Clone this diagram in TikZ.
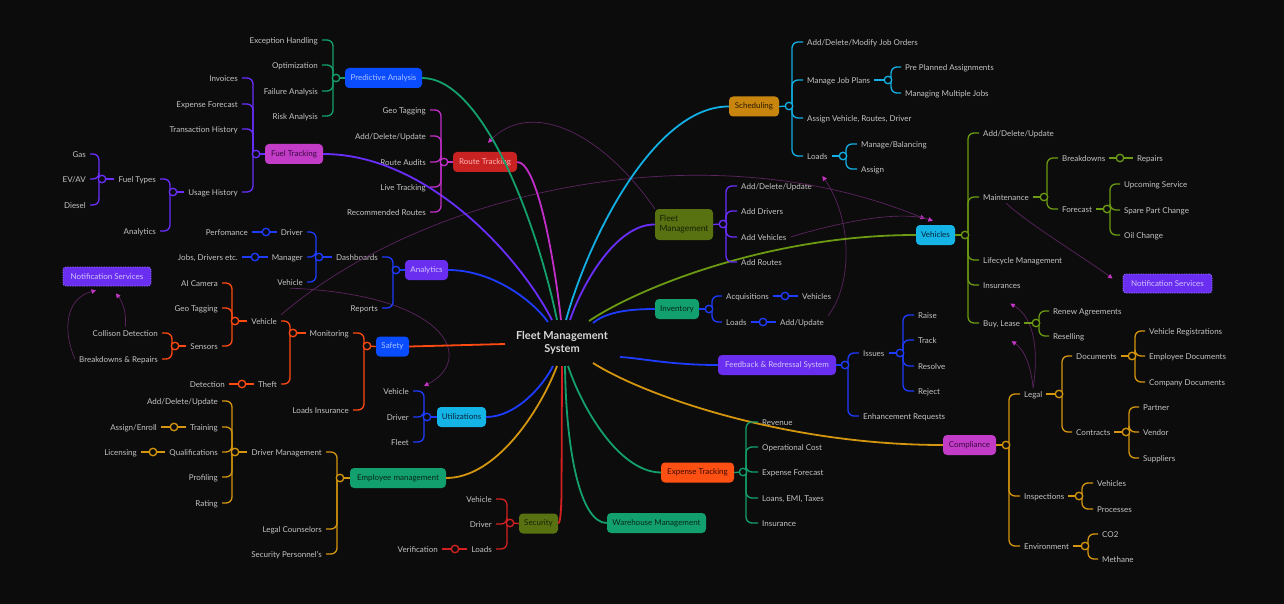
\documentclass[tikz,border=0pt]{standalone}
\usepackage{fontspec}
\setmainfont{Lato}
\usetikzlibrary{arrows.meta,calc}
\definecolor{bg}{HTML}{0C0C0C}
\definecolor{txt}{HTML}{C4C4C4}
\definecolor{titlec}{HTML}{D8D8D8}
\definecolor{relc}{HTML}{5C2460}
\definecolor{arrc}{HTML}{C535C5}
\definecolor{cGreen}{HTML}{14A06C}
\definecolor{cBlue}{HTML}{1E3CFF}
\definecolor{cViolet}{HTML}{6A2EFF}
\definecolor{cMag}{HTML}{C22EC8}
\definecolor{cRed}{HTML}{D42020}
\definecolor{cOrange}{HTML}{FF4A12}
\definecolor{cAmber}{HTML}{D4960E}
\definecolor{cCyan}{HTML}{12B0E4}
\definecolor{cOlive}{HTML}{6C9A12}
\definecolor{bBlue}{HTML}{0A4CFF}\definecolor{tBlue}{HTML}{A9C2FF}
\definecolor{bViolet}{HTML}{6A2EF0}\definecolor{tViolet}{HTML}{D0C4FF}
\definecolor{bMag}{HTML}{C23CC8}\definecolor{tMag}{HTML}{3C0842}
\definecolor{bRed}{HTML}{C82222}\definecolor{tRed}{HTML}{FFB4B4}
\definecolor{bGreen}{HTML}{12A06E}\definecolor{tGreen}{HTML}{06281A}
\definecolor{bOrange}{HTML}{FF5014}\definecolor{tOrange}{HTML}{3C0A00}
\definecolor{bAmber}{HTML}{C8860E}\definecolor{tAmber}{HTML}{2C1A00}
\definecolor{bCyan}{HTML}{14B4E6}\definecolor{tCyan}{HTML}{06243A}
\definecolor{bOlive}{HTML}{587212}\definecolor{tOlive}{HTML}{182000}
\definecolor{nsline}{HTML}{9070FF}
\newcommand\mmlab{\fontsize{8}{9.5}\selectfont}
\newcommand\bL[3]{\draw[brn,#1] ($(#2)+(-3,0)$) |- (#3.east);}
\newcommand\bR[3]{\draw[brn,#1] ($(#2)+(3,0)$) |- (#3.west);}
\tikzset{
 lblL/.style={font=\mmlab,text=txt,inner xsep=4pt,inner ysep=1.5pt,text height=1.5ex,text depth=.25ex,anchor=east},
 lblR/.style={font=\mmlab,text=txt,inner xsep=4pt,inner ysep=1.5pt,text height=1.5ex,text depth=.25ex,anchor=west},
 mbox/.style={rounded corners=4pt,minimum height=20pt,inner xsep=4pt,inner ysep=2pt,font=\mmlab},
 brn/.style={line width=1.3pt,rounded corners=6pt},
 mainc/.style={line width=1.8pt},
 hubc/.style={circle,minimum size=7.5pt,inner sep=0pt,line width=1.3pt,fill=bg},
 relarrow/.style={draw=relc,line width=0.7pt,-{Triangle[length=4.5pt,width=4.5pt,color=arrc]}},
 nsbox/.style={mbox,fill=bViolet,draw=nsline,line width=0.8pt,dash pattern=on 1.2pt off 1.2pt,text=tViolet,rounded corners=3pt,minimum height=19pt},
}
\begin{document}
\begin{tikzpicture}[x=1pt,y=-1pt]
\useasboundingbox (0,0) rectangle (1284,604);
\fill[bg] (0,0) rectangle (1284,604);

% centre
\node[font=\fontsize{11}{13.5}\selectfont\bfseries,text=titlec,align=center] (ctr) at (562,343) {Fleet Management\\System};

% main boxes
\node[mbox,fill=bBlue,text=tBlue,minimum width=77pt] (pa) at (383.5,78) {Predictive Analysis};
\node[mbox,fill=bMag,text=tMag,minimum width=58pt] (ft) at (294,154) {Fuel Tracking};
\node[mbox,fill=bRed,text=tRed,minimum width=64pt] (rt) at (485,162) {Route Tracking};
\node[mbox,fill=bViolet,text=tViolet,minimum width=43pt] (an) at (426.5,270) {Analytics};
\node[mbox,fill=bBlue,text=tBlue,minimum width=33pt] (sf) at (392.5,346.5) {Safety};
\node[mbox,fill=bCyan,text=tCyan,minimum width=49pt] (ut) at (461.5,417) {Utilizations};
\node[mbox,fill=bGreen,text=tGreen,minimum width=96pt] (em) at (398,478) {Employee management};
\node[mbox,fill=bOlive,text=tOlive,minimum width=39pt] (se) at (538.5,523.5) {Security};
\node[mbox,fill=bGreen,text=tGreen,minimum width=99pt] (wh) at (656.5,523) {Warehouse Management};
\node[mbox,fill=bOrange,text=tOrange,minimum width=73pt] (ex) at (697.5,472.5) {Expense Tracking};
\node[mbox,fill=bMag,text=tMag,minimum width=53pt] (co) at (969.5,445) {Compliance};
\node[mbox,fill=bViolet,text=tViolet,minimum width=118pt] (fb) at (777,365) {Feedback \& Redressal System};
\node[mbox,fill=bGreen,text=tGreen,minimum width=44pt] (inv) at (677,309) {Inventory};
\node[mbox,fill=bOlive,text=tOlive,minimum width=58pt,minimum height=31pt,align=left,font=\fontsize{8.5}{10}\selectfont] (fm) at (684,224.5) {Fleet\\Management};
\node[mbox,fill=bCyan,text=tCyan,minimum width=39pt] (ve) at (935.5,235) {Vehicles};
\node[mbox,fill=bAmber,text=tAmber,minimum width=50pt] (sc) at (754,106.5) {Scheduling};
\node[nsbox,minimum width=88pt] (nsa) at (107,276.5) {Notification Services};
\node[nsbox,minimum width=89pt] (nsb) at (1167.5,283.5) {Notification Services};

% left labels
\node[lblL] (peh) at (322,40) {Exception Handling};
\node[lblL] (pop) at (322,65) {Optimization};
\node[lblL] (pfa) at (322,91) {Failure Analysis};
\node[lblL] (pra) at (322,116) {Risk Analysis};
\node[lblL] (fin) at (242,78) {Invoices};
\node[lblL] (fef) at (242,104) {Expense Forecast};
\node[lblL] (fth) at (242,129) {Transaction History};
\node[lblL] (fuh) at (242,192) {Usage History};
\node[lblL] (fty) at (160,179) {Fuel Types};
\node[lblL] (fan) at (160,231) {Analytics};
\node[lblL] (fga) at (90,154) {Gas};
\node[lblL] (fev) at (90,179) {EV/AV};
\node[lblL] (fdi) at (90,205) {Diesel};
\node[lblL] (rgt) at (430,110) {Geo Tagging};
\node[lblL] (rad) at (430,136) {Add/Delete/Update};
\node[lblL] (rau) at (430,162) {Route Audits};
\node[lblL] (rlt) at (430,187) {Live Tracking};
\node[lblL] (rrr) at (430,212) {Recommended Routes};
\node[lblL] (adb) at (382,257) {Dashboards};
\node[lblL] (arp) at (382,308) {Reports};
\node[lblL] (adr) at (307,232) {Driver};
\node[lblL] (amg) at (307,257) {Manager};
\node[lblL] (ave) at (307,282) {Vehicle};
\node[lblL] (apf) at (252,232) {Perfomance};
\node[lblL] (ajd) at (242,257) {Jobs, Drivers etc.};
\node[lblL] (smo) at (353,333) {Monitoring};
\node[lblL] (sli) at (353,410) {Loads Insurance};
\node[lblL] (sve) at (281,321) {Vehicle};
\node[lblL] (sth) at (281,384) {Theft};
\node[lblL] (sai) at (222,283) {AI Camera};
\node[lblL] (sgt) at (222,308) {Geo Tagging};
\node[lblL] (sse) at (222,346) {Sensors};
\node[lblL] (scd) at (162,333) {Collison Detection};
\node[lblL] (sbr) at (162,359) {Breakdowns \& Repairs};
\node[lblL] (sdt) at (229,384) {Detection};
\node[lblL] (uve) at (413,391) {Vehicle};
\node[lblL] (udr) at (413,417) {Driver};
\node[lblL] (ufl) at (413,442) {Fleet};
\node[lblL] (edm) at (326,452) {Driver Management};
\node[lblL] (elc) at (326,529) {Legal Counselors};
\node[lblL] (esp) at (326,554) {Security Personnel's};
\node[lblL] (ead) at (222,401) {Add/Delete/Update};
\node[lblL] (etr) at (222,427) {Training};
\node[lblL] (equ) at (222,452) {Qualifications};
\node[lblL] (epr) at (222,477) {Profiling};
\node[lblL] (era) at (222,503) {Rating};
\node[lblL] (eae) at (161,427) {Assign/Enroll};
\node[lblL] (eli) at (141,452) {Licensing};
\node[lblL] (yve) at (496,499) {Vehicle};
\node[lblL] (ydr) at (496,524) {Driver};
\node[lblL] (ylo) at (496,549) {Loads};
\node[lblL] (yvf) at (442,549) {Verification};

% right labels
\node[lblR] (kad) at (803,42) {Add/Delete/Modify Job Orders};
\node[lblR] (kmj) at (803,80) {Manage Job Plans};
\node[lblR] (kav) at (803,118) {Assign Vehicle, Routes, Driver};
\node[lblR] (klo) at (803,156) {Loads};
\node[lblR] (kpp) at (901,67) {Pre Planned Assignments};
\node[lblR] (kmm) at (901,93) {Managing Multiple Jobs};
\node[lblR] (kmb) at (857,144) {Manage/Balancing};
\node[lblR] (kas) at (857,169) {Assign};
\node[lblR] (mad) at (737,186) {Add/Delete/Update};
\node[lblR] (mdr) at (737,211) {Add Drivers};
\node[lblR] (mav) at (737,237) {Add Vehicles};
\node[lblR] (mar) at (737,262) {Add Routes};
\node[lblR] (vad) at (979,133) {Add/Delete/Update};
\node[lblR] (vma) at (979,197) {Maintenance};
\node[lblR] (vlm) at (979,260) {Lifecycle Management};
\node[lblR] (vin) at (979,285) {Insurances};
\node[lblR] (vbl) at (979,323) {Buy, Lease};
\node[lblR] (vbd) at (1058,158) {Breakdowns};
\node[lblR] (vfc) at (1058,209) {Forecast};
\node[lblR] (vre) at (1133,158) {Repairs};
\node[lblR] (vus) at (1120,184) {Upcoming Service};
\node[lblR] (vsp) at (1120,210) {Spare Part Change};
\node[lblR] (voc) at (1120,235) {Oil Change};
\node[lblR] (vra) at (1049,311) {Renew Agreements};
\node[lblR] (vrs) at (1049,336) {Reselling};
\node[lblR] (iac) at (722,296) {Acquisitions};
\node[lblR] (ilo) at (722,322) {Loads};
\node[lblR] (ive) at (798,296) {Vehicles};
\node[lblR] (iau) at (776,322) {Add/Update};
\node[lblR] (dis) at (859,353) {Issues};
\node[lblR] (der) at (859,416) {Enhancement Requests};
\node[lblR] (dra) at (914,315) {Raise};
\node[lblR] (dtr) at (914,340) {Track};
\node[lblR] (drs) at (914,366) {Resolve};
\node[lblR] (drj) at (914,391) {Reject};
\node[lblR] (xre) at (758,422) {Revenue};
\node[lblR] (xoc) at (758,447) {Operational Cost};
\node[lblR] (xef) at (758,472) {Expense Forecast};
\node[lblR] (xlo) at (758,498) {Loans, EMI, Taxes};
\node[lblR] (xin) at (758,523) {Insurance};
\node[lblR] (cle) at (1020,394) {Legal};
\node[lblR] (cin) at (1020,496) {Inspections};
\node[lblR] (cen) at (1020,546) {Environment};
\node[lblR] (cdo) at (1072,356) {Documents};
\node[lblR] (cct) at (1072,432) {Contracts};
\node[lblR] (cvr) at (1145,331) {Vehicle Registrations};
\node[lblR] (ced) at (1145,356) {Employee Documents};
\node[lblR] (ccd) at (1145,382) {Company Documents};
\node[lblR] (cpa) at (1139,407) {Partner};
\node[lblR] (cve) at (1139,432) {Vendor};
\node[lblR] (csu) at (1139,458) {Suppliers};
\node[lblR] (civ) at (1093,483) {Vehicles};
\node[lblR] (cip) at (1093,509) {Processes};
\node[lblR] (cco) at (1098,534) {CO2};
\node[lblR] (cme) at (1098,559) {Methane};

% hubs
\coordinate (hPA) at (336,78);
\coordinate (hFT) at (256,154);
\coordinate (hUH) at (173,192);
\coordinate (hTY) at (102,179);
\coordinate (hRT) at (444,162);
\coordinate (hAN) at (396,270);
\coordinate (hDB) at (319,257);
\coordinate (hDR) at (266,232);
\coordinate (hMG) at (255,257);
\coordinate (hSF) at (367,346);
\coordinate (hMO) at (293,333);
\coordinate (hSV) at (235,321);
\coordinate (hSE) at (175,346);
\coordinate (hTH) at (242,384);
\coordinate (hUT) at (427,417);
\coordinate (hEM) at (340,478);
\coordinate (hDM) at (235,452);
\coordinate (hTR) at (174,427);
\coordinate (hQU) at (153,452);
\coordinate (hSC) at (510,523);
\coordinate (hLO) at (455,549);
\coordinate (hSCH) at (789,106);
\coordinate (hMJ) at (888,80);
\coordinate (hKL) at (843,156);
\coordinate (hFM) at (723,224);
\coordinate (hVE) at (965,235);
\coordinate (hMA) at (1044,197);
\coordinate (hBD) at (1120,158);
\coordinate (hFC) at (1107,209);
\coordinate (hBL) at (1036,323);
\coordinate (hIN) at (709,309);
\coordinate (hAQ) at (785,296);
\coordinate (hIL) at (763,322);
\coordinate (hFB) at (845,365);
\coordinate (hIS) at (900,353);
\coordinate (hEX) at (743,472);
\coordinate (hCO) at (1006,445);
\coordinate (hLE) at (1059,394);
\coordinate (hDO) at (1132,356);
\coordinate (hCT) at (1126,432);
\coordinate (hIP) at (1079,496);
\coordinate (hEN) at (1085,546);

% centre ends
\coordinate (cFT) at (552,320);
\coordinate (cPA) at (557,320);
\coordinate (cRT) at (561,320);
\coordinate (cAN) at (548,322);
\coordinate (cSF) at (505,344);
\coordinate (cUT) at (553,366);
\coordinate (cEM) at (557,366);
\coordinate (cSE) at (562,366);
\coordinate (cWH) at (565,366);
\coordinate (cEX) at (568,366);
\coordinate (cCO) at (593,363);
\coordinate (cFB) at (620,357);
\coordinate (cIN) at (593,323);
\coordinate (cVE) at (589,321);
\coordinate (cFM) at (570,320);
\coordinate (cSC) at (566,320);

% relation arrows (behind)
\draw[relarrow] (scd.north) .. controls (127,310) and (121,300) .. ($(nsa.south)+(9,7)$);
\draw[relarrow] (sbr.west) .. controls (62,330) and (66,298) .. ($(nsa.south)+(-11,4)$);
\draw[relarrow] (sve.north east) .. controls (420,195) and (700,126) .. ($(ve.north west)+(9,-6)$);
\draw[relarrow] (mav.east) .. controls (840,222) and (900,210) .. ($(ve.north west)+(17,-4)$);
\draw[relarrow] (ave.south) .. controls (450,295) and (475,360) .. ($(uve.east)+(11,-5)$);
\draw[relarrow] (fm.north west) .. controls (600,130) and (530,100) .. ($(rt.north)+(3,-9)$);
\draw[relarrow] (iau.north east) .. controls (855,280) and (850,215) .. ($(klo.south)+(5,14)$);
\draw[relarrow] (vma.south) .. controls (1030,225) and (1080,255) .. ($(nsb.west)+(-10,-5)$);
\draw[relarrow] (cle.north) .. controls (1040,340) and (1030,315) .. ($(vin.south)+(8.5,12.5)$);
\draw[relarrow] (cle.north) .. controls (1030,360) and (1022,348) .. ($(vbl.south)+(10,12)$);

% main connectors
\draw[mainc,cViolet] (ft.east) .. controls (426,154) and (518,254) .. (cFT);
\draw[mainc,cGreen] (pa.east) .. controls (483,78) and (537,223) .. (cPA);
\draw[mainc,cMag] (rt.east) .. controls (537,162) and (554,257) .. (cRT);
\draw[mainc,cBlue] (an.east) .. controls (493,270) and (533,301) .. (cAN);
\draw[mainc,cOrange] (sf.east) -- (cSF);
\draw[mainc,cBlue] (ut.east) .. controls (516,417) and (543,386) .. (cUT);
\draw[mainc,cAmber] (em.east) .. controls (496,478) and (540,411) .. (cEM);
\draw[mainc,cRed] (cSE) -- (561.5,495) .. controls (561,515) and (560,523) .. (se.east);
\draw[mainc,cGreen] (wh.west) .. controls (580,523) and (566,450) .. (cWH);
\draw[mainc,cGreen] (ex.west) .. controls (619,472) and (582,408) .. (cEX);
\draw[mainc,cAmber] (co.west) .. controls (786,445) and (645,396) .. (cCO);
\draw[mainc,cBlue] (fb.west) .. controls (670,365) and (640,358) .. (cFB);
\draw[mainc,cBlue] (inv.west) .. controls (625,309) and (605,313) .. (cIN);
\draw[mainc,cOlive] (ve.west) .. controls (769,235) and (638,288) .. (cVE);
\draw[mainc,cViolet] (fm.west) .. controls (617,224) and (583,282) .. (cFM);
\draw[mainc,cCyan] (sc.west) .. controls (656,106) and (590,234) .. (cSC);

% parent to hub lines
\draw[brn,cGreen] (pa.west) -- (hPA);
\draw[brn,cViolet] (ft.west) -- (hFT);
\draw[brn,cViolet] (fuh.west) -- (hUH);
\draw[brn,cViolet] (fty.west) -- (hTY);
\draw[brn,cMag] (rt.west) -- (hRT);
\draw[brn,cBlue] (an.west) -- (hAN);
\draw[brn,cBlue] (adb.west) -- (hDB);
\draw[brn,cBlue] (adr.west) -- (apf.east);
\draw[brn,cBlue] (amg.west) -- (ajd.east);
\draw[brn,cOrange] (sf.west) -- (hSF);
\draw[brn,cOrange] (smo.west) -- (hMO);
\draw[brn,cOrange] (sve.west) -- (hSV);
\draw[brn,cOrange] (sse.west) -- (hSE);
\draw[brn,cOrange] (sth.west) -- (sdt.east);
\draw[brn,cBlue] (ut.west) -- (hUT);
\draw[brn,cAmber] (em.west) -- (hEM);
\draw[brn,cAmber] (edm.west) -- (hDM);
\draw[brn,cAmber] (etr.west) -- (eae.east);
\draw[brn,cAmber] (equ.west) -- (eli.east);
\draw[brn,cRed] (se.west) -- (hSC);
\draw[brn,cRed] (ylo.west) -- (yvf.east);
\draw[brn,cCyan] (sc.east) -- (hSCH);
\draw[brn,cCyan] (kmj.east) -- (hMJ);
\draw[brn,cCyan] (klo.east) -- (hKL);
\draw[brn,cViolet] (fm.east) -- (hFM);
\draw[brn,cOlive] (ve.east) -- (hVE);
\draw[brn,cOlive] (vma.east) -- (hMA);
\draw[brn,cOlive] (vbd.east) -- (vre.west);
\draw[brn,cOlive] (vfc.east) -- (hFC);
\draw[brn,cOlive] (vbl.east) -- (hBL);
\draw[brn,cBlue] (inv.east) -- (hIN);
\draw[brn,cBlue] (iac.east) -- (ive.west);
\draw[brn,cBlue] (ilo.east) -- (iau.west);
\draw[brn,cBlue] (fb.east) -- (hFB);
\draw[brn,cBlue] (dis.east) -- (hIS);
\draw[brn,cGreen] (ex.east) -- (hEX);
\draw[brn,cAmber] (co.east) -- (hCO);
\draw[brn,cAmber] (cle.east) -- (hLE);
\draw[brn,cAmber] (cdo.east) -- (hDO);
\draw[brn,cAmber] (cct.east) -- (hCT);
\draw[brn,cAmber] (cin.east) -- (hIP);
\draw[brn,cAmber] (cen.east) -- (hEN);

% branches
\bL{cGreen}{hPA}{peh}\bL{cGreen}{hPA}{pop}\bL{cGreen}{hPA}{pfa}\bL{cGreen}{hPA}{pra}
\bL{cViolet}{hFT}{fin}\bL{cViolet}{hFT}{fef}\bL{cViolet}{hFT}{fth}\bL{cViolet}{hFT}{fuh}
\bL{cViolet}{hUH}{fty}\bL{cViolet}{hUH}{fan}
\bL{cViolet}{hTY}{fga}\bL{cViolet}{hTY}{fev}\bL{cViolet}{hTY}{fdi}
\bL{cMag}{hRT}{rgt}\bL{cMag}{hRT}{rad}\bL{cMag}{hRT}{rau}\bL{cMag}{hRT}{rlt}\bL{cMag}{hRT}{rrr}
\bL{cBlue}{hAN}{adb}\bL{cBlue}{hAN}{arp}
\bL{cBlue}{hDB}{adr}\bL{cBlue}{hDB}{amg}\bL{cBlue}{hDB}{ave}
\bL{cOrange}{hSF}{smo}\bL{cOrange}{hSF}{sli}
\bL{cOrange}{hMO}{sve}\bL{cOrange}{hMO}{sth}
\bL{cOrange}{hSV}{sai}\bL{cOrange}{hSV}{sgt}\bL{cOrange}{hSV}{sse}
\bL{cOrange}{hSE}{scd}\bL{cOrange}{hSE}{sbr}
\bL{cBlue}{hUT}{uve}\bL{cBlue}{hUT}{udr}\bL{cBlue}{hUT}{ufl}
\bL{cAmber}{hEM}{edm}\bL{cAmber}{hEM}{elc}\bL{cAmber}{hEM}{esp}
\bL{cAmber}{hDM}{ead}\bL{cAmber}{hDM}{etr}\bL{cAmber}{hDM}{equ}\bL{cAmber}{hDM}{epr}\bL{cAmber}{hDM}{era}
\bL{cRed}{hSC}{yve}\bL{cRed}{hSC}{ydr}\bL{cRed}{hSC}{ylo}
\bR{cCyan}{hSCH}{kad}\bR{cCyan}{hSCH}{kmj}\bR{cCyan}{hSCH}{kav}\bR{cCyan}{hSCH}{klo}
\bR{cCyan}{hMJ}{kpp}\bR{cCyan}{hMJ}{kmm}
\bR{cCyan}{hKL}{kmb}\bR{cCyan}{hKL}{kas}
\bR{cViolet}{hFM}{mad}\bR{cViolet}{hFM}{mdr}\bR{cViolet}{hFM}{mav}\bR{cViolet}{hFM}{mar}
\bR{cOlive}{hVE}{vad}\bR{cOlive}{hVE}{vma}\bR{cOlive}{hVE}{vlm}\bR{cOlive}{hVE}{vin}\bR{cOlive}{hVE}{vbl}
\bR{cOlive}{hMA}{vbd}\bR{cOlive}{hMA}{vfc}
\bR{cOlive}{hFC}{vus}\bR{cOlive}{hFC}{vsp}\bR{cOlive}{hFC}{voc}
\bR{cOlive}{hBL}{vra}\bR{cOlive}{hBL}{vrs}
\bR{cBlue}{hIN}{iac}\bR{cBlue}{hIN}{ilo}
\bR{cBlue}{hFB}{dis}\bR{cBlue}{hFB}{der}
\bR{cBlue}{hIS}{dra}\bR{cBlue}{hIS}{dtr}\bR{cBlue}{hIS}{drs}\bR{cBlue}{hIS}{drj}
\bR{cGreen}{hEX}{xre}\bR{cGreen}{hEX}{xoc}\bR{cGreen}{hEX}{xef}\bR{cGreen}{hEX}{xlo}\bR{cGreen}{hEX}{xin}
\bR{cAmber}{hCO}{cle}\bR{cAmber}{hCO}{cin}\bR{cAmber}{hCO}{cen}
\bR{cAmber}{hLE}{cdo}\bR{cAmber}{hLE}{cct}
\bR{cAmber}{hDO}{cvr}\bR{cAmber}{hDO}{ced}\bR{cAmber}{hDO}{ccd}
\bR{cAmber}{hCT}{cpa}\bR{cAmber}{hCT}{cve}\bR{cAmber}{hCT}{csu}
\bR{cAmber}{hIP}{civ}\bR{cAmber}{hIP}{cip}
\bR{cAmber}{hEN}{cco}\bR{cAmber}{hEN}{cme}

% hub circles
\foreach \hh/\hc in {hPA/cGreen,hFT/cViolet,hUH/cViolet,hTY/cViolet,hRT/cMag,hAN/cBlue,hDB/cBlue,hDR/cBlue,hMG/cBlue,hSF/cOrange,hMO/cOrange,hSV/cOrange,hSE/cOrange,hTH/cOrange,hUT/cBlue,hEM/cAmber,hDM/cAmber,hTR/cAmber,hQU/cAmber,hSC/cRed,hLO/cRed,hSCH/cCyan,hMJ/cCyan,hKL/cCyan,hFM/cViolet,hVE/cOlive,hMA/cOlive,hBD/cOlive,hFC/cOlive,hBL/cOlive,hIN/cBlue,hAQ/cBlue,hIL/cBlue,hFB/cBlue,hIS/cBlue,hEX/cGreen,hCO/cAmber,hLE/cAmber,hDO/cAmber,hCT/cAmber,hIP/cAmber,hEN/cAmber}
  \node[hubc,draw=\hc] (n\hh) at (\hh) {};
\end{tikzpicture}
\end{document}
